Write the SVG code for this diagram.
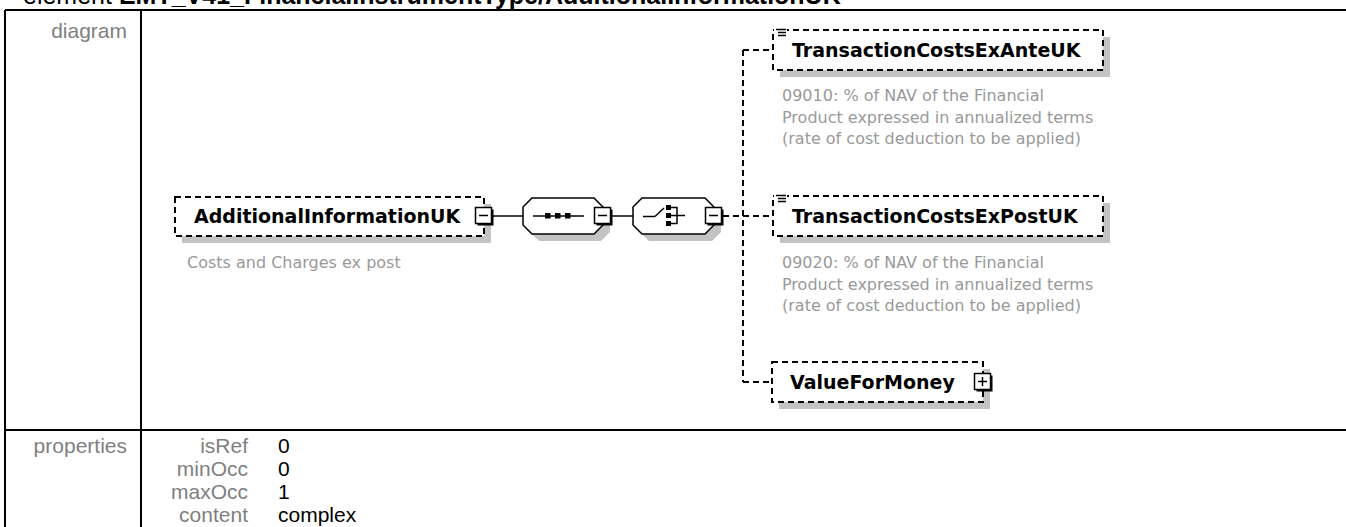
<svg xmlns="http://www.w3.org/2000/svg" width="1346" height="527" viewBox="0 0 1346 527">
<style>
.tbl{stroke:#000;stroke-width:2;fill:none}
.lbl{font-family:"Liberation Sans",Arial,sans-serif;font-size:21px;fill:#808080}
.val{font-family:"Liberation Sans",Arial,sans-serif;font-size:21px;fill:#000}
.title{font-family:"Liberation Sans",Arial,sans-serif;font-size:25px;fill:#000}
.shadow{fill:#c3c3c3;stroke:none}
.box{fill:#fff;stroke:#000;stroke-width:2;stroke-dasharray:6 4}
.name{font-family:"DejaVu Sans",Verdana,sans-serif;font-weight:bold;font-size:19px;fill:#000}
.desc{font-family:"DejaVu Sans",Verdana,sans-serif;font-size:16px;fill:#999}
.oct{fill:#fff;stroke:#000;stroke-width:1.5}
.solid{stroke:#000;stroke-width:1.5;fill:none}
.dash{stroke:#000;stroke-width:2;fill:none;stroke-dasharray:6 4}
.btn{fill:#fff;stroke:#000;stroke-width:1.5}
.btnsh{fill:#000}
.sym{stroke:#000;stroke-width:1.5;fill:none}
.dot{fill:#000}
</style>
<defs>
<g id="minus">
<rect class="btnsh" x="-6.5" y="-6.5" width="16" height="16"/>
<rect class="btn" x="-8.5" y="-8.5" width="16" height="16"/>
<line class="sym" x1="-5" y1="-0.5" x2="4" y2="-0.5"/>
</g>
<g id="plus">
<rect class="btnsh" x="-6.5" y="-6.5" width="16" height="16"/>
<rect class="btn" x="-8.5" y="-8.5" width="16" height="16"/>
<line class="sym" x1="-5" y1="-0.5" x2="4" y2="-0.5"/>
<line class="sym" x1="-0.5" y1="-5" x2="-0.5" y2="4"/>
</g>
<g id="simple">
<rect x="1" y="0" width="13" height="12" fill="#fff"/>
<line class="sym" x1="3" y1="2.5" x2="13" y2="2.5" stroke-width="1.4"/>
<line class="sym" x1="5" y1="5.5" x2="13" y2="5.5" stroke-width="1.4"/>
<line class="sym" x1="5" y1="8.5" x2="13" y2="8.5" stroke-width="1.4"/>
</g>
</defs>
<rect width="1346" height="527" fill="#fff"/>

<g id="title">
<text class="title" x="23" y="4">element <tspan font-weight="bold">EMT_V41_FinancialInstrumentType/AdditionalInformationUK</tspan></text>
</g>

<g id="table">
<line class="tbl" x1="5" y1="10" x2="1346" y2="10"/>
<line class="tbl" x1="5" y1="10" x2="5" y2="527"/>
<line class="tbl" x1="141" y1="10" x2="141" y2="527"/>
<line class="tbl" x1="5" y1="430" x2="1346" y2="430"/>
<text class="lbl" x="127" y="38" text-anchor="end">diagram</text>
<text class="lbl" x="127" y="453" text-anchor="end">properties</text>
<text class="lbl" x="248" y="453" text-anchor="end">isRef</text>
<text class="lbl" x="248" y="476" text-anchor="end">minOcc</text>
<text class="lbl" x="248" y="499" text-anchor="end">maxOcc</text>
<text class="lbl" x="248" y="522" text-anchor="end">content</text>
<text class="val" x="278" y="453">0</text>
<text class="val" x="278" y="476">0</text>
<text class="val" x="278" y="499">1</text>
<text class="val" x="278" y="522">complex</text>
</g>

<g id="connectors">
<line class="solid" x1="493" y1="216" x2="523" y2="216"/>
<line class="solid" x1="612" y1="216" x2="633" y2="216"/>
<line class="dash" x1="723" y1="216" x2="773" y2="216"/>
<line class="dash" x1="743" y1="50" x2="743" y2="382"/>
<line class="dash" x1="743" y1="50" x2="773" y2="50"/>
<line class="dash" x1="743" y1="382" x2="772" y2="382"/>
</g>

<g id="AdditionalInformationUK">
<rect class="shadow" x="182" y="204" width="309" height="39"/>
<rect class="box" x="175" y="197" width="309" height="39"/>
<text class="name" x="194" y="223">AdditionalInformationUK</text>
<text class="desc" x="187" y="268">Costs and Charges ex post</text>
<use href="#minus" x="484" y="216"/>
</g>

<g id="sequence">
<polygon class="shadow" points="539,205 601,205 610,214 610,232 601,241 539,241 530,232 530,214"/>
<polygon class="oct" points="532,198 594,198 603,207 603,225 594,234 532,234 523,225 523,207"/>
<line class="sym" x1="533" y1="216" x2="584" y2="216"/>
<rect class="dot" x="545" y="213" width="5.5" height="5.5"/>
<rect class="dot" x="555" y="213" width="5.5" height="5.5"/>
<rect class="dot" x="565" y="213" width="5.5" height="5.5"/>
<use href="#minus" x="603" y="216"/>
</g>

<g id="choice">
<polygon class="shadow" points="649,205 712,205 721,214 721,232 712,241 649,241 640,232 640,214"/>
<polygon class="oct" points="642,198 705,198 714,207 714,225 705,234 642,234 633,225 633,207"/>
<line class="sym" x1="643" y1="216.5" x2="655" y2="216.5"/>
<line class="sym" x1="655" y1="216.5" x2="664" y2="208"/>
<rect class="dot" x="666" y="205" width="5" height="5"/>
<rect class="dot" x="666" y="213" width="5" height="5"/>
<rect class="dot" x="666" y="221" width="5" height="5"/>
<polyline class="sym" points="671,207.5 677,207.5 677,223.5 671,223.5"/>
<line class="sym" x1="671" y1="215.5" x2="685" y2="215.5"/>
<use href="#minus" x="714" y="216"/>
</g>

<g id="TransactionCostsExAnteUK">
<rect class="shadow" x="780" y="37" width="330" height="40"/>
<rect class="box" x="773" y="30" width="330" height="40"/>
<use href="#simple" x="773" y="27"/>
<text class="name" x="792" y="57">TransactionCostsExAnteUK</text>
<text class="desc" x="782" y="101">09010: % of NAV of the Financial</text>
<text class="desc" x="782" y="122.5">Product expressed in annualized terms</text>
<text class="desc" x="782" y="144">(rate of cost deduction to be applied)</text>
</g>

<g id="TransactionCostsExPostUK">
<rect class="shadow" x="780" y="203" width="330" height="40"/>
<rect class="box" x="773" y="196" width="330" height="40"/>
<use href="#simple" x="773" y="193"/>
<text class="name" x="792" y="223">TransactionCostsExPostUK</text>
<text class="desc" x="782" y="268">09020: % of NAV of the Financial</text>
<text class="desc" x="782" y="289.5">Product expressed in annualized terms</text>
<text class="desc" x="782" y="311">(rate of cost deduction to be applied)</text>
</g>

<g id="ValueForMoney">
<rect class="shadow" x="779" y="369" width="211" height="40"/>
<rect class="box" x="772" y="362" width="211" height="40"/>
<text class="name" x="790" y="389">ValueForMoney</text>
<use href="#plus" x="983" y="382"/>
</g>
</svg>
